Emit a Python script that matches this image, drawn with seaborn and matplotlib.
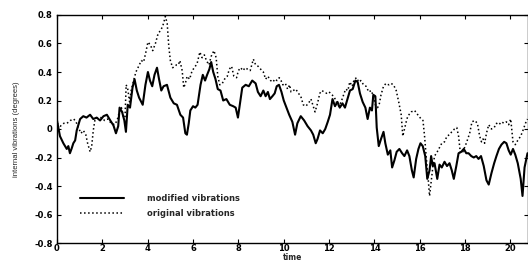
import numpy as np
import pandas as pd
import seaborn as sns
import matplotlib
matplotlib.use("Agg")
import matplotlib.pyplot as plt

# modified vibrations (solid)
t_mod = [0, 0.13, 0.28, 0.43, 0.5, 0.57, 0.65, 0.72, 0.8, 0.87,
         1.02, 1.16, 1.3, 1.46, 1.6, 1.75, 1.9, 2.05, 2.2, 2.35,
         2.49, 2.6, 2.7, 2.76, 2.87, 2.97, 3.04, 3.12, 3.22, 3.33,
         3.42, 3.52, 3.62, 3.78, 3.9, 4.01, 4.1, 4.2, 4.3, 4.41,
         4.5, 4.6, 4.7, 4.85, 5.0, 5.15, 5.29, 5.44, 5.56, 5.66,
         5.73, 5.81, 5.88, 6.0, 6.1, 6.2, 6.33, 6.43, 6.53, 6.62,
         6.72, 6.8, 6.89, 6.99, 7.09, 7.21, 7.33, 7.47, 7.62, 7.77,
         7.88, 7.98, 8.06, 8.17, 8.32, 8.46, 8.61, 8.76, 8.86, 8.98,
         9.1, 9.2, 9.3, 9.39, 9.5, 9.6, 9.69, 9.79, 9.9, 10.0,
         10.12, 10.24, 10.38, 10.5, 10.6, 10.75, 10.9, 11.05, 11.2, 11.3,
         11.41, 11.49, 11.6, 11.72, 11.83, 11.94, 12.04, 12.15, 12.26, 12.37,
         12.47, 12.59, 12.7, 12.81, 12.92, 13.04, 13.16, 13.26, 13.36, 13.48,
         13.6, 13.7, 13.8, 13.89, 13.95, 14.04, 14.1, 14.19, 14.29, 14.4,
         14.48, 14.59, 14.7, 14.78, 14.88, 14.98, 15.1, 15.22, 15.32, 15.44,
         15.54, 15.65, 15.73, 15.84, 15.94, 16.03, 16.13, 16.24, 16.33, 16.43,
         16.5, 16.57, 16.65, 16.77, 16.87, 16.97, 17.09, 17.2, 17.31, 17.41,
         17.5, 17.61, 17.71, 17.83, 17.94, 18.05, 18.15, 18.27, 18.38, 18.49,
         18.59, 18.7, 18.82, 18.94, 19.04, 19.16, 19.28, 19.38, 19.49, 19.6,
         19.72, 19.82, 19.92, 20.01, 20.11, 20.21, 20.32, 20.45, 20.53, 20.62,
         20.75]
v_mod = [0.06, -0.05, -0.10, -0.14, -0.12, -0.17, -0.135, -0.10, -0.08, -0.01,
         0.07, 0.09, 0.08, 0.10, 0.07, 0.08, 0.06, 0.09, 0.10, 0.06,
         0.025, -0.03, 0.02, 0.15, 0.12, 0.06, -0.02, 0.17, 0.15, 0.29,
         0.35, 0.27, 0.22, 0.17, 0.31, 0.40, 0.34, 0.30, 0.38, 0.43,
         0.35, 0.27, 0.30, 0.31, 0.22, 0.18, 0.17, 0.10, 0.08, -0.03,
         -0.04, 0.04, 0.13, 0.16, 0.15, 0.17, 0.31, 0.38, 0.34, 0.38,
         0.42, 0.47, 0.40, 0.35, 0.28, 0.27, 0.20, 0.21, 0.17, 0.16,
         0.15, 0.08, 0.17, 0.29, 0.31, 0.30, 0.34, 0.32, 0.26, 0.23,
         0.27, 0.23, 0.26, 0.21, 0.23, 0.25, 0.30, 0.31, 0.26, 0.20,
         0.15, 0.10, 0.05, -0.04, 0.04, 0.09, 0.06, 0.02, -0.01, -0.04,
         -0.10, -0.07, -0.01, -0.03, 0.00, 0.05, 0.10, 0.21, 0.16, 0.19,
         0.15, 0.18, 0.15, 0.21, 0.27, 0.28, 0.34, 0.33, 0.25, 0.19,
         0.15, 0.07, 0.15, 0.13, 0.24, 0.23, 0.01, -0.12, -0.07, -0.02,
         -0.10, -0.18, -0.15, -0.27, -0.22, -0.16, -0.14, -0.17, -0.19, -0.15,
         -0.19, -0.29, -0.34, -0.21, -0.14, -0.10, -0.12, -0.19, -0.35, -0.29,
         -0.19, -0.26, -0.24, -0.35, -0.25, -0.27, -0.23, -0.26, -0.24, -0.29,
         -0.35, -0.26, -0.17, -0.16, -0.14, -0.17, -0.17, -0.19, -0.20, -0.19,
         -0.21, -0.19, -0.26, -0.36, -0.39, -0.31, -0.24, -0.19, -0.14, -0.11,
         -0.09, -0.10, -0.15, -0.18, -0.14, -0.18, -0.24, -0.35, -0.47, -0.27,
         -0.17]

# original vibrations (dotted)
t_orig = [0, 0.15, 0.3, 0.44, 0.59, 0.74, 0.84, 0.94, 1.06, 1.16,
          1.27, 1.35, 1.46, 1.53, 1.6, 1.68, 1.8, 1.95, 2.1, 2.24,
          2.39, 2.54, 2.65, 2.75, 2.84, 2.94, 3.0, 3.05, 3.12, 3.2,
          3.27, 3.38, 3.48, 3.6, 3.72, 3.82, 3.92, 4.01, 4.12, 4.22,
          4.34, 4.46, 4.56, 4.66, 4.78, 4.86, 4.93, 5.0, 5.1, 5.19,
          5.27, 5.35, 5.42, 5.52, 5.59, 5.66, 5.74, 5.85, 5.96, 6.06,
          6.18, 6.3, 6.4, 6.5, 6.59, 6.7, 6.8, 6.92, 7.02, 7.09,
          7.18, 7.29, 7.39, 7.51, 7.6, 7.7, 7.8, 7.92, 8.0, 8.1,
          8.2, 8.3, 8.4, 8.52, 8.66, 8.76, 8.87, 8.98, 9.1, 9.2,
          9.3, 9.42, 9.53, 9.6, 9.7, 9.8, 9.88, 9.96, 10.07, 10.17,
          10.26, 10.32, 10.42, 10.53, 10.65, 10.75, 10.86, 10.97, 11.09, 11.2,
          11.3, 11.38, 11.49, 11.59, 11.68, 11.78, 11.9, 12.0, 12.13, 12.24,
          12.34, 12.43, 12.53, 12.64, 12.73, 12.83, 12.91, 13.02, 13.11, 13.22,
          13.3, 13.4, 13.52, 13.63, 13.75, 13.86, 13.95, 14.04, 14.14, 14.22,
          14.29, 14.4, 14.51, 14.63, 14.73, 14.84, 14.96, 15.07, 15.18, 15.25,
          15.4, 15.47, 15.62, 15.77, 15.91, 16.06, 16.14, 16.21, 16.28, 16.36,
          16.43, 16.5, 16.58, 16.65, 16.77, 16.87, 16.97, 17.09, 17.2, 17.31,
          17.41, 17.53, 17.63, 17.71, 17.79, 17.9, 18.05, 18.2, 18.3, 18.42,
          18.54, 18.64, 18.72, 18.79, 18.86, 18.94, 19.04, 19.16, 19.28, 19.38,
          19.49, 19.6, 19.72, 19.82, 19.92, 20.01, 20.11, 20.21, 20.32, 20.45,
          20.55, 20.66, 20.75]
v_orig = [0.04, 0.02, 0.04, 0.04, 0.06, 0.07, 0.05, 0.01, -0.03, -0.01,
          -0.04, -0.10, -0.16, -0.12, -0.01, 0.07, 0.08, 0.08, 0.06, 0.07,
          0.04, 0.03, 0.06, 0.12, 0.15, 0.08, 0.08, 0.31, 0.28, 0.19,
          0.27, 0.34, 0.40, 0.44, 0.48, 0.47, 0.54, 0.61, 0.59, 0.55,
          0.60, 0.67, 0.69, 0.72, 0.79, 0.74, 0.58, 0.48, 0.43, 0.44,
          0.45, 0.45, 0.48, 0.41, 0.29, 0.32, 0.37, 0.35, 0.41, 0.43,
          0.46, 0.54, 0.50, 0.52, 0.48, 0.45, 0.51, 0.55, 0.50, 0.37,
          0.31, 0.32, 0.35, 0.37, 0.42, 0.44, 0.37, 0.36, 0.41, 0.43,
          0.41, 0.43, 0.42, 0.41, 0.49, 0.45, 0.44, 0.42, 0.40, 0.35,
          0.37, 0.34, 0.33, 0.35, 0.34, 0.36, 0.34, 0.31, 0.32, 0.28,
          0.31, 0.26, 0.27, 0.28, 0.25, 0.23, 0.17, 0.16, 0.18, 0.21,
          0.16, 0.12, 0.18, 0.25, 0.27, 0.26, 0.25, 0.26, 0.24, 0.22,
          0.18, 0.16, 0.19, 0.24, 0.28, 0.27, 0.33, 0.30, 0.35, 0.36,
          0.33, 0.34, 0.31, 0.30, 0.26, 0.27, 0.23, 0.17, 0.15, 0.18,
          0.24, 0.30, 0.32, 0.31, 0.32, 0.31, 0.27, 0.19, 0.10, -0.05,
          0.05, 0.09, 0.12, 0.13, 0.10, 0.07, 0.06, -0.05, -0.19, -0.33,
          -0.47, -0.37, -0.26, -0.19, -0.16, -0.13, -0.10, -0.09, -0.05, -0.04,
          -0.02, 0.00, 0.01, -0.05, -0.17, -0.16, -0.10, -0.03, 0.05, 0.06,
          0.04, -0.05, -0.09, -0.07, -0.10, -0.03, 0.03, 0.00, 0.01, 0.04,
          0.03, 0.05, 0.04, 0.05, 0.03, 0.07, -0.09, -0.11, -0.08, -0.05,
          -0.01, 0.04, 0.07]

x_ticks = [0, 2, 4, 6, 8, 10, 12, 14, 16, 18, 20]
y_ticks = [-0.8, -0.6, -0.4, -0.2, 0, 0.2, 0.4, 0.6, 0.8]
y_ticklabels = ['-0.8', '-0.6', '-0.4', '-0.2', '0', '0.2', '0.4', '0.6', '0.8']

sns.set_style('ticks', {'xtick.direction': 'in', 'ytick.direction': 'in'})
plt.rcParams['font.family'] = ['DejaVu Sans']

fig = plt.figure(figsize=(5.28, 2.61), dpi=100)
ax = fig.add_axes([57 / 528, 18 / 261, 470.5 / 528, 228 / 261])

sns.lineplot(x=t_mod, y=v_mod, ax=ax, color='black', lw=1.5,
             estimator=None, label='modified vibrations')
sns.lineplot(x=t_orig, y=v_orig, ax=ax, color='black', lw=1.1, linestyle=':',
             estimator=None, label='original vibrations')

ax.set_xlim(0, 20.75)
ax.set_ylim(-0.8, 0.8)
ax.set_xticks(x_ticks)
ax.set_xticklabels([str(x) for x in x_ticks], fontsize=6, fontweight='bold')
ax.set_yticks(y_ticks)
ax.set_yticklabels(y_ticklabels, fontsize=6, fontweight='bold')
ax.tick_params(axis='both', which='both', direction='in', length=3, width=0.8,
               top=True, right=True, colors='black')
ax.tick_params(axis='x', pad=1)
ax.tick_params(axis='y', pad=3)
for s in ax.spines.values():
    s.set_visible(True)
    s.set_linewidth(1.0)
    s.set_color('black')

ax.set_xlabel('time', fontsize=5.5, fontweight='bold', labelpad=-0.5)
ax.set_ylabel('internal vibrations (degrees)', fontsize=5.5,
              family=['Liberation Sans', 'DejaVu Sans'])
ax.yaxis.set_label_coords(-0.079, 0.5)

ax.legend(loc='upper left', bbox_to_anchor=(0.049, 0.215), frameon=False,
          prop={'weight': 'bold', 'size': 6, 'family': 'DejaVu Sans'},
          borderaxespad=0, borderpad=0, handlelength=5.3,
          handletextpad=2.7, labelspacing=0.7)

fig.savefig('out.png', dpi=100)
